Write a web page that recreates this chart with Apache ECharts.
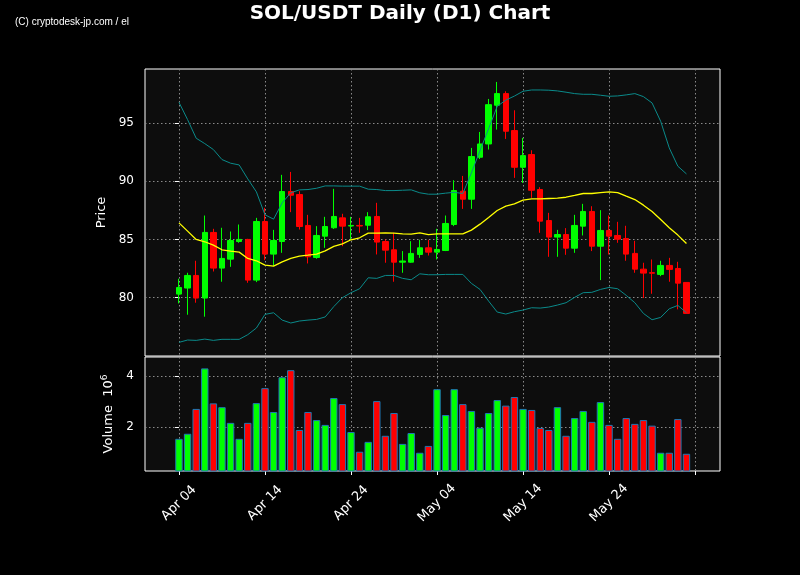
<!DOCTYPE html>
<html>
<head>
<meta charset="utf-8">
<script src="https://cdn.jsdelivr.net/npm/echarts@6/dist/echarts.min.js"></script>
<style>
html,body{margin:0;padding:0;background:#000;}
#chart{width:800px;height:575px;}
</style>
</head>
<body>
<div id="chart"></div>
<script>
// Day index 0 = Apr 04
const openP  = [80.31,80.83,81.91,79.97,85.6,82.54,83.31,84.82,85.0,81.51,86.54,83.74,84.82,89.11,88.85,86.2,83.45,85.28,86.0,86.85,86.15,86.2,86.22,86.97,84.82,84.11,83.05,83.05,83.71,84.28,83.91,84.05,86.28,89.14,88.45,92.05,93.19,96.51,97.51,94.34,91.19,92.28,89.28,86.62,85.2,85.42,84.25,86.14,87.4,84.42,85.77,85.34,85.08,83.8,82.45,82.15,82.0,82.77,82.51,81.31];
const closeP = [80.88,81.91,79.97,85.6,82.54,83.37,84.91,85.0,81.51,86.54,83.74,84.91,89.11,88.79,86.11,83.51,85.34,86.11,86.97,86.14,86.2,86.15,86.94,84.77,84.08,83.05,83.15,83.8,84.28,83.91,84.14,86.37,89.19,88.45,92.11,93.19,96.56,97.51,94.28,91.19,92.19,89.22,86.57,85.2,85.42,84.25,86.2,87.4,84.42,85.77,85.28,85.02,83.74,82.45,82.11,82.1,82.77,82.43,81.25,78.65];
const lowP   = [79.51,78.54,79.57,78.37,82.25,81.37,82.65,84.71,81.28,81.34,83.22,82.71,83.85,87.34,85.85,82.94,83.34,84.28,85.9,84.42,85.0,85.57,85.8,83.71,83.0,81.37,82.14,83.0,83.42,83.62,83.28,84.0,86.14,87.62,87.62,91.9,92.71,94.42,93.62,90.28,89.85,88.57,85.57,83.51,83.51,83.68,83.85,85.34,84.0,81.51,83.71,84.71,83.17,82.14,79.97,80.34,81.85,81.37,79.0,78.65];
const highP  = [81.63,82.14,83.17,87.05,85.91,86.0,85.68,86.28,85.05,86.85,87.71,85.82,90.54,90.79,89.14,87.11,86.14,86.94,89.34,87.2,86.94,86.85,87.34,88.14,85.0,85.57,84.0,84.85,84.97,84.97,85.91,87.05,90.08,90.45,92.85,94.22,97.05,98.51,97.71,96.08,93.71,92.65,89.48,87.28,85.82,85.97,87.11,88.05,87.85,87.51,87.05,86.51,86.17,84.88,83.0,83.28,83.17,83.42,83.08,81.31];
const volume = [1.53,1.73,2.71,4.31,2.93,2.78,2.16,1.53,2.16,2.94,3.53,2.59,3.96,4.24,1.88,2.59,2.27,2.08,3.14,2.9,1.8,1.02,1.41,3.02,1.65,2.55,1.33,1.76,0.98,1.25,3.49,2.47,3.49,2.9,2.63,1.97,2.55,3.06,2.84,3.18,2.71,2.67,1.96,1.88,2.78,1.65,2.35,2.63,2.2,2.98,2.08,1.53,2.35,2.12,2.27,2.05,0.98,0.98,2.31,0.94];
const maLine = [86.42,85.71,85.0,84.8,84.51,84.11,84.0,83.91,83.37,83.17,82.8,82.71,83.08,83.37,83.57,83.65,83.74,84.02,84.4,84.62,84.97,85.14,85.54,85.54,85.57,85.54,85.48,85.45,85.57,85.42,85.48,85.48,85.48,85.48,85.8,86.31,86.88,87.48,87.85,88.05,88.37,88.48,88.48,88.51,88.54,88.62,88.77,88.94,88.94,89.02,89.08,89.02,88.71,88.42,87.94,87.4,86.71,86.0,85.37,84.65];
const upperBand = [96.76,95.28,93.68,93.22,92.71,91.85,91.54,91.39,90.19,89.08,87.11,86.74,88.14,89.0,89.25,89.28,89.39,89.59,89.59,89.57,89.57,89.57,89.31,89.28,89.19,89.19,89.22,89.25,89.0,88.88,88.88,88.97,89.04,88.94,90.71,92.62,94.5,96.42,96.95,97.3,97.71,97.82,97.82,97.8,97.74,97.63,97.51,97.45,97.45,97.37,97.28,97.31,97.4,97.51,97.25,96.71,95.14,92.85,91.28,90.62];
const lowerBand = [76.17,76.37,76.34,76.45,76.34,76.43,76.43,76.43,76.83,77.4,78.57,78.71,78.08,77.83,78.0,78.08,78.14,78.35,79.24,80.0,80.43,80.77,81.71,81.66,81.91,81.91,81.66,81.54,82.05,81.97,81.97,82.0,82.0,82.0,81.23,80.71,79.71,78.77,78.6,78.8,78.94,79.14,79.11,79.2,79.37,79.57,80.03,80.43,80.46,80.71,80.88,80.77,80.2,79.57,78.65,78.11,78.31,79.05,79.34,78.71];
const xTickDays = [0,10,20,30,40,50,60];
const xTickLabels = ['Apr 04','Apr 14','Apr 24','May 04','May 14','May 24',''];
const priceTicks = [80,85,90,95];
const volumeTicks = [2,4];

const UP = '#00ff00', DOWN = '#ff0000';
const candleData = openP.map((o,i)=>[i,o,closeP[i],lowP[i],highP[i]]);
const volData = volume.map((v,i)=>({value:[i,v], itemStyle:{color: closeP[i] >= openP[i] ? UP : DOWN}}));
const toXY = arr => arr.map((v,i)=>[i,v]);

const gridLine = {show:true, lineStyle:{color:'#8a8a8a', width:1, type:[1.5,2.5]}};
const tickStyle = {show:true, inside:false, length:4, lineStyle:{color:'#fff', width:1}};
const FONT = 'DejaVu Sans';

const chart = echarts.init(document.getElementById('chart'), null, {renderer:'canvas'});
chart.setOption({
  backgroundColor:'#000',
  animation:false,
  textStyle:{fontFamily:FONT},
  title:[
    {text:'SOL/USDT Daily (D1) Chart', left:'center', top:-1,
     textStyle:{color:'#fff', fontSize:20, fontWeight:'bold', fontFamily:FONT}},
    {text:'(C) cryptodesk-jp.com / el', left:10, top:12,
     textStyle:{color:'#fff', fontSize:10, fontWeight:'normal', fontFamily:'Liberation Sans'}}
  ],
  grid:[
    {left:145, top:69, width:575, height:287, show:true, backgroundColor:'#0d0d0d', borderColor:'#fff', borderWidth:1, outerBoundsMode:'none'},
    {left:145, top:357, width:575, height:114, show:true, backgroundColor:'#0d0d0d', borderColor:'#fff', borderWidth:1, outerBoundsMode:'none'}
  ],
  xAxis:[
    {type:'value', gridIndex:0, min:-3.95, max:62.9,
     axisLine:{show:false}, axisTick:{show:false, customValues:xTickDays},
     axisLabel:{show:false, customValues:xTickDays}, splitLine:gridLine},
    {type:'value', gridIndex:1, min:-3.95, max:62.9,
     axisLine:{show:false}, axisTick:Object.assign({customValues:xTickDays}, tickStyle),
     axisLabel:{show:true, customValues:xTickDays.slice(0,6), rotate:45, align:'center', verticalAlign:'middle', margin:32,
       color:'#fff', fontSize:13, fontFamily:FONT,
       formatter:v=>xTickLabels[xTickDays.indexOf(Math.round(v))] || ''},
     splitLine:gridLine}
  ],
  yAxis:[
    {type:'value', gridIndex:0, min:75.0, max:99.62,
     name:'Price', nameLocation:'middle', nameRotate:90, nameGap:36,
     nameTextStyle:{color:'#fff', fontSize:13, fontFamily:FONT},
     axisLine:{show:false}, axisTick:Object.assign({customValues:priceTicks}, tickStyle),
     axisLabel:{customValues:priceTicks, color:'#fff', fontSize:12, fontFamily:FONT, margin:11},
     splitLine:gridLine},
    {type:'value', gridIndex:1, min:0.26, max:4.76,
     name:'{a|Volume  10}{b|6}', nameLocation:'middle', nameRotate:90, nameGap:25,
     nameTextStyle:{color:'#fff', fontSize:13, fontFamily:FONT,
       rich:{a:{color:'#fff', fontSize:13, fontFamily:FONT, lineHeight:17},
             b:{color:'#fff', fontSize:9, fontFamily:FONT, verticalAlign:'top', lineHeight:17}}},
     axisLine:{show:false}, axisTick:Object.assign({customValues:volumeTicks}, tickStyle),
     axisLabel:{customValues:volumeTicks, color:'#fff', fontSize:12, fontFamily:FONT, margin:11},
     splitLine:gridLine}
  ],
  series:[
    {type:'candlestick', name:'SOL', xAxisIndex:0, yAxisIndex:0, data:candleData,
     encode:{x:0, y:[1,2,3,4]}, barWidth:6,
     itemStyle:{color:UP, color0:DOWN, borderColor:UP, borderColor0:DOWN, borderWidth:1}, z:2},
    {type:'line', name:'Upper', xAxisIndex:0, yAxisIndex:0, data:toXY(upperBand), symbol:'none',
     lineStyle:{color:'#0a8a8a', width:1}, z:3},
    {type:'line', name:'Lower', xAxisIndex:0, yAxisIndex:0, data:toXY(lowerBand), symbol:'none',
     lineStyle:{color:'#0a8a8a', width:1}, z:3},
    {type:'line', name:'MA', xAxisIndex:0, yAxisIndex:0, data:toXY(maLine), symbol:'none',
     lineStyle:{color:'#ffff00', width:1.3}, z:3},
    {type:'bar', name:'Volume', xAxisIndex:1, yAxisIndex:1, data:volData, barWidth:7.4,
     itemStyle:{borderColor:'#1f77b4', borderWidth:1}, z:2}
  ]
});
</script>
</body>
</html>
